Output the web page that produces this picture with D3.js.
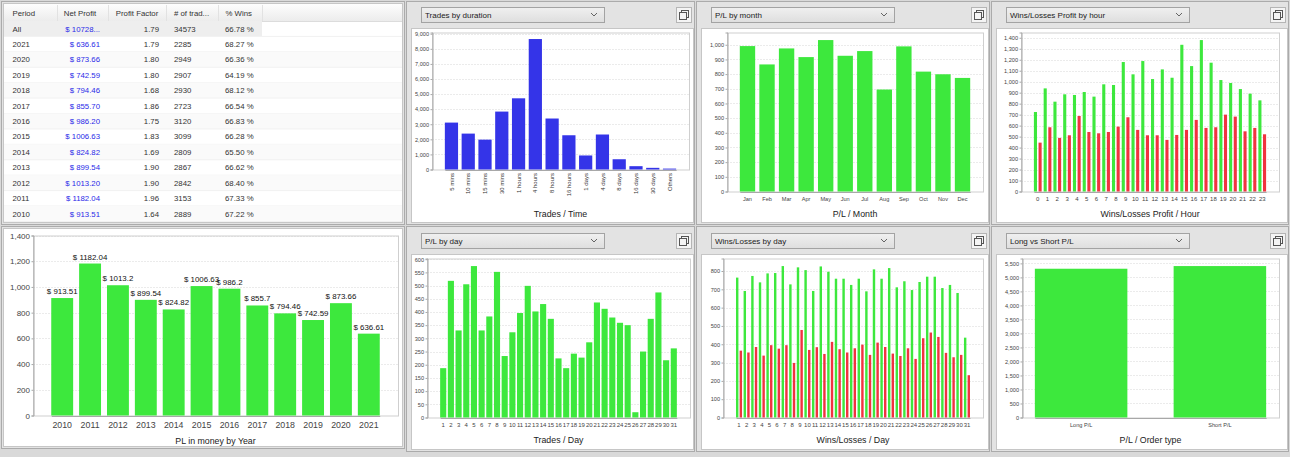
<!DOCTYPE html>
<html><head><meta charset="utf-8">
<script src="https://cdn.jsdelivr.net/npm/d3@7"></script>
<style>
html,body{margin:0;padding:0;background:#d9d9d9;}
svg{display:block;font-family:"Liberation Sans",Arial,sans-serif;}
</style></head><body>
<svg id="c" width="1290" height="457"></svg>
<script>
// ---------- DATA ----------
const tableHeaders = ["Period","Net Profit","Profit Factor","# of trad...","% Wins"];
const tablePeriods = ["All","2021","2020","2019","2018","2017","2016","2015","2014","2013","2012","2011","2010"];
const tableNetProfit = ["$ 10728...","$ 636.61","$ 873.66","$ 742.59","$ 794.46","$ 855.70","$ 986.20","$ 1006.63","$ 824.82","$ 899.54","$ 1013.20","$ 1182.04","$ 913.51"];
const tableProfitFactor = ["1.79","1.79","1.80","1.80","1.68","1.86","1.75","1.83","1.69","1.90","1.90","1.96","1.64"];
const tableTrades = ["34573","2285","2949","2907","2930","2723","3120","3099","2809","2867","2842","3153","2889"];
const tableWins = ["66.78 %","68.27 %","66.36 %","64.19 %","68.12 %","66.54 %","66.83 %","66.28 %","65.50 %","66.62 %","68.40 %","67.33 %","67.22 %"];

const durationCats = ["5 mins","10 mins","15 mins","30 mins","1 hours","4 hours","8 hours","16 hours","1 days","4 days","8 days","16 days","30 days","Others"];
const durationValues = [3110,2380,1980,3840,4720,8650,3380,2270,930,2320,680,220,110,60];
const durationTicks = [0,1000,2000,3000,4000,5000,6000,7000,8000,9000];

const monthCats = ["Jan","Feb","Mar","Apr","May","Jun","Jul","Aug","Sep","Oct","Nov","Dec"];
const monthValues = [991,866,975,916,1032,925,957,695,989,817,799,774];
const monthTicks = [0,100,200,300,400,500,600,700,800,900,1000];

const hourCats = ["0","1","2","3","4","5","6","7","8","9","10","11","12","13","14","15","16","17","18","19","20","21","22","23"];
const hourWins = [724,939,818,885,879,906,864,976,970,1179,1067,1188,1024,1112,1036,1336,1142,1379,1173,1015,988,933,891,830];
const hourLosses = [445,585,488,512,688,542,530,542,591,676,561,512,512,470,515,561,652,579,585,700,682,548,579,521];
const hourTicks = [0,100,200,300,400,500,600,700,800,900,1000,1100,1200,1300,1400];

const yearCats = ["2010","2011","2012","2013","2014","2015","2016","2017","2018","2019","2020","2021"];
const yearValues = [913.51,1182.04,1013.2,899.54,824.82,1006.63,986.2,855.7,794.46,742.59,873.66,636.61];
const yearTicks = [0,200,400,600,800,1000,1200,1400];

const dayCats = ["1","2","3","4","5","6","7","8","9","10","11","12","13","14","15","16","17","18","19","20","21","22","23","24","25","26","27","28","29","30","31"];
const dayValues = [187,518,330,505,574,330,383,552,233,323,396,499,402,430,374,224,187,242,227,285,436,412,379,359,350,20,250,374,474,217,262];
const dayTicks = [0,50,100,150,200,250,300,350,400,450,500,550,600];

const dayWins = [764,691,773,738,787,789,827,727,820,805,691,825,796,758,758,724,758,689,809,758,816,711,744,696,740,769,769,707,724,680,436];
const dayLosses = [365,355,385,338,395,376,395,298,478,369,384,347,413,373,355,378,398,342,409,385,349,336,378,320,433,464,440,353,329,342,231];
const wlDayTicks = [0,100,200,300,400,500,600,700,800];

const orderCats = ["Long P/L","Short P/L"];
const orderValues = [5309,5404];
const orderTicks = [0,500,1000,1500,2000,2500,3000,3500,4000,4500,5000,5500];

// ---------- STYLE ----------
const GREEN = "#3de83d", RED = "#f0343f", BLUE = "#3434e8";
const svg = d3.select("#c");
svg.append("rect").attr("width",1290).attr("height",457).attr("fill","#d9d9d9");

// ---------- PANELS ----------
function frame(x0,y0,x1,y1){
  svg.append("rect").attr("x",x0+0.5).attr("y",y0+0.5).attr("width",x1-x0).attr("height",y1-y0)
    .attr("fill","#e3e3e3").attr("stroke","#ababab");
}
function white(x0,y0,x1,y1){
  svg.append("rect").attr("x",x0+0.5).attr("y",y0+0.5).attr("width",x1-x0).attr("height",y1-y0)
    .attr("fill","#fff").attr("stroke","#c6c6c6");
}
const defs = svg.append("defs");
const g1 = defs.append("linearGradient").attr("id","dd").attr("x1",0).attr("y1",0).attr("x2",0).attr("y2",1);
g1.append("stop").attr("offset","0%").attr("stop-color","#f0f0f0");
g1.append("stop").attr("offset","100%").attr("stop-color","#dedede");
const g2 = defs.append("linearGradient").attr("id","hd").attr("x1",0).attr("y1",0).attr("x2",0).attr("y2",1);
g2.append("stop").attr("offset","0%").attr("stop-color","#fdfdfd");
g2.append("stop").attr("offset","100%").attr("stop-color","#ececec");

function dropdown(x0,y0,x1,label){
  svg.append("rect").attr("x",x0+0.5).attr("y",y0+0.5).attr("width",x1-x0).attr("height",15)
    .attr("fill","url(#dd)").attr("stroke","#a3a3a3");
  svg.append("text").attr("x",x0+4).attr("y",y0+11).attr("font-size",8).attr("fill","#222").text(label);
  const cx = x1-10, cy = y0+7.5;
  svg.append("path").attr("d",`M${cx-3},${cy-1.5}L${cx},${cy+1.5}L${cx+3},${cy-1.5}`)
    .attr("fill","none").attr("stroke","#555").attr("stroke-width",0.9);
}
function iconBtn(x0,y0){
  svg.append("rect").attr("x",x0+0.5).attr("y",y0+0.5).attr("width",15).attr("height",15)
    .attr("fill","#f4f4f4").attr("stroke","#b5b5b5");
  svg.append("rect").attr("x",x0+5.5).attr("y",y0+3.5).attr("width",7).attr("height",7)
    .attr("fill","none").attr("stroke","#555");
  svg.append("rect").attr("x",x0+3.5).attr("y",y0+5.5).attr("width",7).attr("height",7)
    .attr("fill","#f4f4f4").attr("stroke","#555");
}

// table panel
frame(1,1,404,224);
white(3,3,402,222);

// chart panels
const topPanels = [[406,696-2,"Trades by duration"],[696,989,"P/L by month"],[991,1288,"Wins/Losses Profit by hour"]];
const botPanels = [[406,694,"P/L by day"],[696,989,"Wins/Losses by day"],[991,1288,"Long vs Short P/L"]];
topPanels.forEach(([a,b,l])=>{ frame(a,1,b,224); white(a+5,28,b-1,222); dropdown(a+15,7,a+198,l); iconBtn(b-18,7); });
botPanels.forEach(([a,b,l])=>{ frame(a,226,b,451); white(a+5,254,b-1,449); dropdown(a+15,233,a+198,l); iconBtn(b-18,233); });
frame(1,226,404,448);
white(3,228,402,446);

// ---------- TABLE ----------
(function(){
  const colSep = [57,108,166,218,262];
  svg.append("rect").attr("x",4).attr("y",4).attr("width",398).attr("height",17).attr("fill","url(#hd)");
  svg.append("line").attr("x1",4).attr("x2",402).attr("y1",21.5).attr("y2",21.5).attr("stroke","#dcdcdc");
  colSep.forEach(x=>svg.append("line").attr("x1",x+0.5).attr("x2",x+0.5).attr("y1",5).attr("y2",21).attr("stroke","#e2e2e2"));
  const hx = [[12.5,"start"],[80,"middle"],[137,"middle"],[174,"start"],[225.5,"start"]];
  tableHeaders.forEach((h,i)=>svg.append("text").attr("x",hx[i][0]).attr("y",16).attr("text-anchor",hx[i][1])
     .attr("font-size",7.8).attr("fill","#333").text(h));
  const rowH = 15.42, r0 = 21;
  tablePeriods.forEach((p,i)=>{
    const yTop = r0 + i*rowH, yc = yTop + rowH/2;
    if(i===0) svg.append("rect").attr("x",4).attr("y",yTop).attr("width",258).attr("height",rowH).attr("fill","#eeeeee");
    else if(i%2===0) svg.append("rect").attr("x",4).attr("y",yTop).attr("width",398).attr("height",rowH).attr("fill","#fafafa");
    svg.append("line").attr("x1",4).attr("x2",402).attr("y1",yTop+rowH).attr("y2",yTop+rowH).attr("stroke","#f1f1f1");
    const ty = yc + 2.8;
    svg.append("text").attr("x",12.5).attr("y",ty).attr("font-size",7.8).attr("fill","#333").text(p);
    svg.append("text").attr("x",100).attr("y",ty).attr("text-anchor","end").attr("font-size",7.8).attr("fill","#2a2ae8").text(tableNetProfit[i]);
    svg.append("text").attr("x",159).attr("y",ty).attr("text-anchor","end").attr("font-size",7.8).attr("fill","#333").text(tableProfitFactor[i]);
    svg.append("text").attr("x",174).attr("y",ty).attr("font-size",7.8).attr("fill","#333").text(tableTrades[i]);
    svg.append("text").attr("x",225).attr("y",ty).attr("font-size",7.8).attr("fill","#333").text(tableWins[i]);
  });
})();

// ---------- CHART ----------
function jfBand(domain, x0, x1){
  const W = x1-x0, n = domain.length;
  const p = 0.2*n/(n-0.8);
  return d3.scaleBand().domain(domain).range([x0+0.05*W, x1-0.05*W]).paddingInner(n>1?p:0).paddingOuter(0);
}
function chart(o){
  const {x0,x1,y0,y1} = o;
  const x = jfBand(o.cats,x0,x1);
  const yMax = o.yMax || d3.max(o.series.flatMap(s=>s.values))*1.05;
  const y = d3.scaleLinear().domain([0,yMax]).range([y1,y0]);
  const g = svg.append("g");
  // plot bg + grid
  g.append("rect").attr("x",x0).attr("y",y0).attr("width",x1-x0).attr("height",y1-y0).attr("fill","#fff");
  g.selectAll(".grid").data(o.ticks.filter(t=>t>0)).join("line")
    .attr("x1",x0).attr("x2",x1).attr("y1",d=>Math.round(y(d))+0.5).attr("y2",d=>Math.round(y(d))+0.5)
    .attr("stroke","#ebebeb").attr("stroke-dasharray","2,1");
  g.append("rect").attr("x",x0+0.5).attr("y",y0+0.5).attr("width",x1-x0).attr("height",y1-y0)
    .attr("fill","none").attr("stroke","#cfcfcf");
  // bars
  const ns = o.series.length;
  const inner = d3.scaleBand().domain(d3.range(ns)).range([0,x.bandwidth()]).paddingInner(ns>1?0.2*ns/(ns-0.8):0);
  o.series.forEach((s,si)=>{
    g.selectAll(null).data(s.values).join("rect")
      .attr("x",(d,i)=>x(o.cats[i])+inner(si)).attr("width",inner.bandwidth())
      .attr("y",d=>y(d)).attr("height",d=>y1-y(d)).attr("fill",s.color);
  });
  // axes
  const ya = d3.axisLeft(y).tickValues(o.ticks).tickSize(2).tickPadding(1.5).tickFormat(d3.format(","));
  const yg = g.append("g").attr("transform",`translate(${x0+0.5},0)`).call(ya);
  yg.select(".domain").attr("stroke","#a8a8a8");
  yg.selectAll(".tick line").attr("stroke","#a8a8a8");
  yg.selectAll("text").attr("font-size",o.tickFont).attr("fill","#444").attr("font-family","'Liberation Sans',Arial,sans-serif");
  const xa = d3.axisBottom(x).tickSize(0).tickPadding(o.catPad);
  const xg = g.append("g").attr("transform",`translate(0,${y1+0.5})`).call(xa);
  xg.select(".domain").attr("stroke","#a8a8a8");
  xg.selectAll("text").attr("font-size",o.catFont).attr("fill","#444").attr("font-family","'Liberation Sans',Arial,sans-serif");
  if(o.rotate){
    xg.selectAll("text").attr("transform","rotate(-90)").attr("text-anchor","end")
      .attr("dy","0.35em").attr("x",-3).attr("y",0).attr("fill","#333");
  }
  // item labels
  if(o.labels){
    g.selectAll(null).data(o.series[0].values).join("text")
      .attr("x",(d,i)=>x(o.cats[i])+x.bandwidth()/2).attr("y",d=>y(d)-4)
      .attr("text-anchor","middle").attr("font-size",o.labelFont).attr("fill","#111")
      .text(d=>"$ "+d);
  }
  g.append("text").attr("x",(x0+x1)/2).attr("y",o.titleY).attr("text-anchor","middle")
    .attr("font-size",o.titleFont||8.8).attr("fill","#222").text(o.title);
}

chart({x0:432,x1:689,y0:32.5,y1:169.5,cats:durationCats,series:[{values:durationValues,color:BLUE}],
  ticks:durationTicks,tickFont:5.6,catFont:6,catPad:3,rotate:true,title:"Trades / Time",titleY:216.5});
chart({x0:727,x1:983,y0:32.5,y1:191.5,cats:monthCats,series:[{values:monthValues,color:GREEN}],
  ticks:monthTicks,tickFont:5.6,catFont:5.6,catPad:5,title:"P/L / Month",titleY:216.5});
chart({x0:1021,x1:1279,y0:32.5,y1:191.5,cats:hourCats,series:[{values:hourWins,color:GREEN},{values:hourLosses,color:RED}],
  ticks:hourTicks,tickFont:5.6,catFont:6,catPad:5,title:"Wins/Losses Profit / Hour",titleY:216.5});
chart({x0:33,x1:398,y0:235.5,y1:415.5,yMax:1400,cats:yearCats,series:[{values:yearValues,color:GREEN}],
  ticks:yearTicks,tickFont:8,catFont:8.8,catPad:6,labels:true,labelFont:7.9,title:"PL in money by Year",titleY:444,titleFont:8.8});
chart({x0:427,x1:690,y0:258.5,y1:417.5,cats:dayCats,series:[{values:dayValues,color:GREEN}],
  ticks:dayTicks,tickFont:5.6,catFont:6,catPad:5,title:"Trades / Day",titleY:442.5});
chart({x0:723,x1:983,y0:258.5,y1:417.5,cats:dayCats,series:[{values:dayWins,color:GREEN},{values:dayLosses,color:RED}],
  ticks:wlDayTicks,tickFont:5.6,catFont:6,catPad:5,title:"Wins/Losses / Day",titleY:442.5});
chart({x0:1022,x1:1279,y0:258.5,y1:417.5,cats:orderCats,series:[{values:orderValues,color:GREEN}],
  ticks:orderTicks,tickFont:5.6,catFont:5.6,catPad:5,title:"P/L / Order type",titleY:442.5});
</script>
</body></html>
